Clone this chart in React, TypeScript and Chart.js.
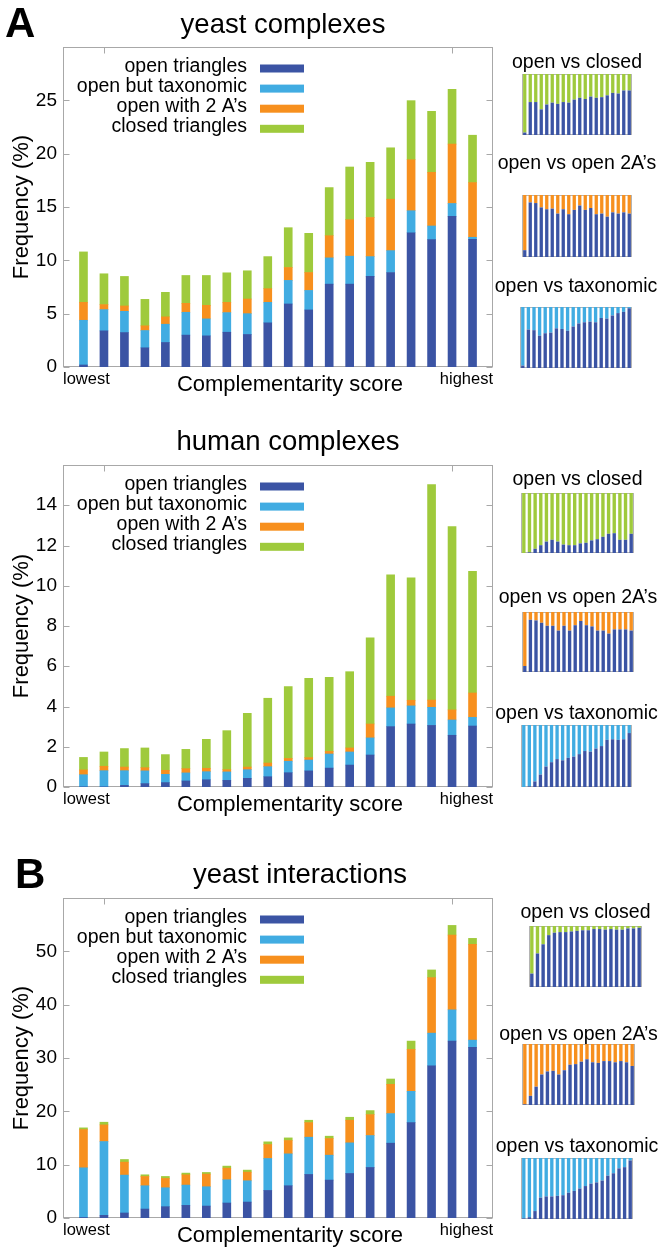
import React, { useEffect, useRef } from 'react';
import { Chart, registerables } from 'chart.js';

Chart.register(...registerables);

const FONT = '"Liberation Sans", Arial, Helvetica, sans-serif';

// ---------- data ----------
const scoreBins = [1, 2, 3, 4, 5, 6, 7, 8, 9, 10, 11, 12, 13, 14, 15, 16, 17, 18, 19, 20];
const seriesNames = ['open triangles', 'open but taxonomic', 'open with 2 A\u2019s', 'closed triangles'];
const xTickValues = [0, 21];
const xTickLabels = ['lowest', 'highest'];
const xMarkValues = [2, 19];

// yeast complexes (%)
const ycOpen = [0.19, 3.39, 3.23, 1.8, 2.3, 2.99, 2.92, 3.26, 3.05, 4.14, 5.91, 5.35, 7.77, 7.77, 8.49, 8.86, 12.59, 11.94, 14.12, 11.97];
const ycTax = [4.19, 1.99, 1.99, 1.62, 1.71, 2.14, 1.59, 1.84, 1.95, 1.92, 2.21, 1.83, 2.46, 2.62, 1.86, 2.05, 2.06, 1.28, 1.21, 0.19];
const yc2A = [1.68, 0.47, 0.5, 0.44, 0.69, 0.84, 1.27, 0.96, 1.37, 1.28, 1.21, 1.68, 2.08, 3.42, 3.67, 4.82, 4.78, 5.03, 5.57, 5.13];
const ycClosed = [4.73, 2.89, 2.77, 2.48, 2.3, 2.61, 2.8, 2.77, 2.65, 3.01, 3.73, 3.67, 4.51, 4.94, 5.17, 4.82, 5.54, 5.72, 5.13, 4.44];
const ycYTicks = [0, 5, 10, 15, 20, 25];

// human complexes (%)
const hcOpen = [0.01, 0.01, 0.08, 0.17, 0.22, 0.3, 0.36, 0.33, 0.43, 0.51, 0.71, 0.8, 0.94, 1.09, 1.59, 3.0, 3.13, 3.06, 2.57, 3.03];
const hcTax = [0.6, 0.8, 0.73, 0.63, 0.41, 0.4, 0.4, 0.42, 0.43, 0.5, 0.57, 0.54, 0.7, 0.65, 0.85, 0.93, 0.9, 0.9, 0.76, 0.43];
const hc2A = [0.24, 0.22, 0.18, 0.16, 0.2, 0.21, 0.17, 0.11, 0.13, 0.18, 0.14, 0.12, 0.13, 0.2, 0.69, 0.58, 0.28, 0.36, 0.5, 1.21];
const hcClosed = [0.62, 0.71, 0.92, 0.98, 0.78, 0.96, 1.44, 1.94, 2.67, 3.22, 3.57, 3.94, 3.68, 3.79, 4.28, 6.03, 6.08, 10.71, 9.11, 6.05];
const hcYTicks = [0, 2, 4, 6, 8, 10, 12, 14];

// yeast interactions (%)
const yiOpen = [0.1, 0.5, 0.94, 1.68, 2.12, 2.37, 2.24, 2.81, 2.99, 5.17, 6.05, 8.17, 7.11, 8.35, 9.48, 14.03, 17.89, 28.55, 33.17, 31.98];
const yiTax = [9.31, 13.84, 7.1, 4.37, 3.55, 3.8, 3.62, 4.36, 3.99, 5.99, 5.98, 6.98, 4.67, 5.74, 5.98, 5.55, 5.86, 6.11, 5.86, 1.37];
const yi2A = [7.17, 3.12, 2.43, 1.74, 1.75, 1.93, 2.37, 2.18, 1.62, 2.62, 2.5, 2.74, 3.12, 4.24, 3.93, 5.48, 7.86, 10.41, 14.02, 17.96];
const yiClosed = [0.32, 0.5, 0.5, 0.31, 0.37, 0.32, 0.31, 0.38, 0.38, 0.5, 0.49, 0.44, 0.44, 0.56, 0.75, 1.0, 1.56, 1.44, 1.81, 1.12];
const yiYTicks = [0, 10, 20, 30, 40, 50];

// inset shares of open triangles (%)
const ycOpenVsClosed = [4, 54, 54, 42, 50, 53, 51, 54, 53, 58, 61, 59, 63, 61, 62, 65, 69, 68, 73, 73];
const ycOpenVs2A = [11, 88, 87, 80, 77, 78, 70, 77, 69, 76, 83, 76, 79, 69, 70, 65, 72, 70, 72, 70];
const ycOpenVsTax = [4, 63, 62, 53, 57, 58, 65, 64, 61, 68, 73, 75, 76, 75, 82, 81, 86, 90, 92, 98];
const hcOpenVsClosed = [0, 1, 7, 13, 19, 22, 19, 14, 13, 13, 16, 17, 21, 23, 27, 32, 33, 22, 22, 32];
const hcOpenVs2A = [10, 87, 86, 82, 77, 77, 69, 77, 69, 78, 85, 78, 76, 69, 69, 64, 71, 71, 71, 69];
const hcOpenVsTax = [0, 1, 9, 20, 33, 40, 45, 43, 47, 49, 53, 58, 57, 62, 66, 76, 77, 76, 77, 87];
const yiOpenVsClosed = [22, 55, 70, 85, 89, 90, 90, 91, 92, 93, 93, 95, 95, 94, 95, 94, 94, 96, 96, 97];
const yiOpenVs2A = [1, 15, 30, 50, 55, 56, 50, 57, 66, 67, 71, 75, 70, 69, 72, 72, 70, 72, 70, 64];
const yiOpenVsTax = [1, 3, 13, 35, 37, 37, 38, 39, 43, 46, 50, 54, 58, 60, 63, 71, 75, 83, 85, 96];

// ---------- styles ----------
const C_OPEN = '#3b54a4';
const C_TAX = '#41ace2';
const C_2A = '#f7901e';
const C_CLOSED = '#9fca3c';
const seriesColors = [C_OPEN, C_TAX, C_2A, C_CLOSED];

const decorPlugin: any = {
  id: 'decor',
  beforeDatasetsDraw(chart: any, _a: any, opts: any) {
    const { ctx, chartArea: a, scales } = chart;
    ctx.save();
    ctx.strokeStyle = opts.frameColor || '#a6a6a6';
    ctx.lineWidth = 1;
    const L = Math.round(a.left) + 0.5;
    const R = Math.round(a.right) - 0.5;
    const T = Math.round(a.top) + 0.5;
    const B = Math.round(a.bottom) - 0.5;
    ctx.strokeRect(L, T, R - L, B - T);
    if (opts.tickLen) {
      ctx.beginPath();
      const y = scales.y;
      for (const t of y.ticks) {
        const py = Math.round(y.getPixelForValue(t.value)) + 0.5;
        ctx.moveTo(L, py);
        ctx.lineTo(L + opts.tickLen, py);
        ctx.moveTo(R, py);
        ctx.lineTo(R - opts.tickLen, py);
      }
      for (const v of opts.xMarks || []) {
        const px = Math.round(scales.x.getPixelForValue(v)) + 0.5;
        ctx.moveTo(px, T);
        ctx.lineTo(px, T + opts.tickLen);
      }
      ctx.stroke();
    }
    ctx.restore();
  },
  afterDraw(chart: any, _a: any, opts: any) {
    const { ctx, chartArea: a } = chart;
    ctx.save();
    for (const t of opts.texts || []) {
      ctx.fillStyle = '#000';
      ctx.font = `${t.bold ? 'bold ' : ''}${t.size}px ${FONT}`;
      ctx.textAlign = t.align || 'center';
      ctx.textBaseline = 'alphabetic';
      const y = t.fromBottom != null ? a.bottom + t.fromBottom : t.y;
      ctx.fillText(t.text, t.x, y);
    }
    const lg = opts.legend;
    if (lg) {
      chart.data.datasets.forEach((ds: any, i: number) => {
        const cy = a.top + lg.top + i * lg.step;
        ctx.font = `${lg.size}px ${FONT}`;
        ctx.textAlign = 'right';
        ctx.textBaseline = 'alphabetic';
        ctx.fillStyle = '#000';
        ctx.fillText(ds.label, lg.textRight, cy + 3);
        ctx.fillStyle = ds.backgroundColor;
        ctx.fillRect(lg.swatchLeft, cy - 4, lg.swatchWidth, 8);
      });
    }
    ctx.restore();
  },
};

type MainCfg = {
  top: number;
  padTop: number;
  title: string;
  titleX: number;
  titleY: number;
  letter?: string;
  letterX?: number;
  series: number[][];
  yMax: number;
  yTicks: number[];
};

const mainPanels: MainCfg[] = [
  { top: 0, padTop: 47, title: 'yeast complexes', titleX: 283, titleY: 32.5, letter: 'A', letterX: 5, series: [ycOpen, ycTax, yc2A, ycClosed], yMax: 30, yTicks: ycYTicks },
  { top: 420, padTop: 45, title: 'human complexes', titleX: 288, titleY: 30, series: [hcOpen, hcTax, hc2A, hcClosed], yMax: 16, yTicks: hcYTicks },
  { top: 851, padTop: 47, title: 'yeast interactions', titleX: 300, titleY: 32, letter: 'B', letterX: 15, series: [yiOpen, yiTax, yi2A, yiClosed], yMax: 60, yTicks: yiYTicks },
];

function MainPanel({ cfg }: { cfg: MainCfg }) {
  const ref = useRef<HTMLCanvasElement>(null);
  useEffect(() => {
    const texts: any[] = [
      { text: cfg.title, x: cfg.titleX, y: cfg.titleY, size: 27.5 },
      { text: 'Complementarity score', x: 290, fromBottom: 24, size: 22 },
    ];
    if (cfg.letter) texts.push({ text: cfg.letter, x: cfg.letterX, y: 37, size: 42, bold: true, align: 'left' });
    const chart = new Chart(ref.current as HTMLCanvasElement, {
      type: 'bar',
      data: {
        datasets: cfg.series.map((s, k) => ({
          label: seriesNames[k],
          data: s.map((v, i) => ({ x: scoreBins[i], y: v })),
          backgroundColor: seriesColors[k],
          borderWidth: 0,
          barThickness: 8,
        })),
      } as any,
      options: {
        animation: false,
        responsive: false,
        maintainAspectRatio: false,
        layout: { padding: { left: 0, right: 7, top: cfg.padTop, bottom: 0 } },
        plugins: {
          legend: { display: false },
          tooltip: { enabled: false },
          decor: {
            frameColor: '#a8a8a8',
            tickLen: 6,
            xMarks: xMarkValues,
            texts,
            legend: { top: 21.5, step: 20.1, size: 19.5, textRight: 247, swatchLeft: 260, swatchWidth: 44 },
          },
        } as any,
        scales: {
          x: {
            type: 'linear',
            stacked: true,
            offset: false,
            min: 0,
            max: 21,
            grid: { display: false, drawTicks: false },
            border: { display: false },
            afterBuildTicks: (s: any) => {
              s.ticks = xTickValues.map((v) => ({ value: v }));
            },
            afterFit: (s: any) => {
              s.height = 33;
            },
            ticks: {
              autoSkip: false,
              maxRotation: 0,
              minRotation: 0,
              align: 'inner',
              padding: 3,
              color: '#000',
              font: { family: FONT, size: 16.5 },
              callback: (_v: any, i: number) => xTickLabels[i],
            },
          },
          y: {
            stacked: true,
            min: 0,
            max: cfg.yMax,
            grid: { display: false, drawTicks: false },
            border: { display: false },
            afterBuildTicks: (s: any) => {
              s.ticks = cfg.yTicks.map((v) => ({ value: v }));
            },
            afterFit: (s: any) => {
              s.width = 63;
            },
            ticks: { padding: 6, color: '#000', font: { family: FONT, size: 19 } },
            title: {
              display: true,
              text: 'Frequency (%)',
              color: '#000',
              font: { family: FONT, size: 22 },
              padding: { top: 9, bottom: 0 },
            },
          },
        } as any,
      },
      plugins: [decorPlugin],
    });
    return () => chart.destroy();
  }, []);
  return (
    <canvas
      ref={ref}
      width={500}
      height={400}
      style={{ position: 'absolute', left: 0, top: cfg.top, width: 500, height: 400 }}
    />
  );
}

type InsetCfg = {
  title: string;
  boxLeft: number;
  boxRight: number;
  boxTop: number;
  boxBottom: number;
  titleBase: number;
  pct: number[];
  otherColor: string;
};

const insetTitles = ['open vs closed', 'open vs open 2A\u2019s', 'open vs taxonomic'];

const insets: InsetCfg[] = [
  { title: insetTitles[0], boxLeft: 522, boxRight: 632, boxTop: 74, boxBottom: 135, titleBase: 68, pct: ycOpenVsClosed, otherColor: C_CLOSED },
  { title: insetTitles[1], boxLeft: 522, boxRight: 632, boxTop: 195, boxBottom: 257, titleBase: 169, pct: ycOpenVs2A, otherColor: C_2A },
  { title: insetTitles[2], boxLeft: 520, boxRight: 632, boxTop: 307, boxBottom: 368, titleBase: 292, pct: ycOpenVsTax, otherColor: C_TAX },
  { title: insetTitles[0], boxLeft: 521, boxRight: 634, boxTop: 493, boxBottom: 553, titleBase: 485, pct: hcOpenVsClosed, otherColor: C_CLOSED },
  { title: insetTitles[1], boxLeft: 522, boxRight: 634, boxTop: 612, boxBottom: 672, titleBase: 603, pct: hcOpenVs2A, otherColor: C_2A },
  { title: insetTitles[2], boxLeft: 521, boxRight: 632, boxTop: 725, boxBottom: 787, titleBase: 719, pct: hcOpenVsTax, otherColor: C_TAX },
  { title: insetTitles[0], boxLeft: 529, boxRight: 642, boxTop: 926, boxBottom: 987, titleBase: 918, pct: yiOpenVsClosed, otherColor: C_CLOSED },
  { title: insetTitles[1], boxLeft: 522, boxRight: 635, boxTop: 1044, boxBottom: 1105, titleBase: 1040, pct: yiOpenVs2A, otherColor: C_2A },
  { title: insetTitles[2], boxLeft: 521, boxRight: 633, boxTop: 1158, boxBottom: 1219, titleBase: 1152, pct: yiOpenVsTax, otherColor: C_TAX },
];

function InsetPanel({ cfg }: { cfg: InsetCfg }) {
  const ref = useRef<HTMLCanvasElement>(null);
  const cLeft = 480;
  const cWidth = 184;
  const cTop = cfg.titleBase - 22;
  const cHeight = cfg.boxBottom - cTop + 2;
  useEffect(() => {
    const chart = new Chart(ref.current as HTMLCanvasElement, {
      type: 'bar',
      data: {
        labels: scoreBins.map(String),
        datasets: [
          { label: 'open', data: cfg.pct, backgroundColor: C_OPEN, borderWidth: 0, grouped: false, barPercentage: 0.6, categoryPercentage: 1 },
          { label: 'other', data: cfg.pct.map((v) => [v, 100]), backgroundColor: cfg.otherColor, borderWidth: 0, grouped: false, barPercentage: 0.6, categoryPercentage: 1 },
        ],
      } as any,
      options: {
        animation: false,
        responsive: false,
        maintainAspectRatio: false,
        layout: {
          padding: {
            left: cfg.boxLeft - cLeft,
            right: cWidth - (cfg.boxRight - cLeft),
            top: cfg.boxTop - cTop,
            bottom: 2,
          },
        },
        plugins: {
          legend: { display: false },
          tooltip: { enabled: false },
          decor: {
            frameColor: '#b4b4b4',
            texts: [
              { text: cfg.title, x: (cfg.boxLeft + cfg.boxRight) / 2 - cLeft, y: cfg.titleBase - cTop, size: 19.5 },
            ],
          },
        } as any,
        scales: {
          x: { type: 'category', display: false, offset: true },
          y: { display: false, min: 0, max: 100 },
        } as any,
      },
      plugins: [decorPlugin],
    });
    return () => chart.destroy();
  }, []);
  return (
    <canvas
      ref={ref}
      width={cWidth}
      height={cHeight}
      style={{ position: 'absolute', left: cLeft, top: cTop, width: cWidth, height: cHeight }}
    />
  );
}

export default function App() {
  return (
    <div style={{ position: 'absolute', left: 0, top: 0, width: 664, height: 1252, background: '#fff', overflow: 'hidden' }}>
      {mainPanels.map((p, i) => (
        <MainPanel key={'m' + i} cfg={p} />
      ))}
      {insets.map((p, i) => (
        <InsetPanel key={'i' + i} cfg={p} />
      ))}
    </div>
  );
}
